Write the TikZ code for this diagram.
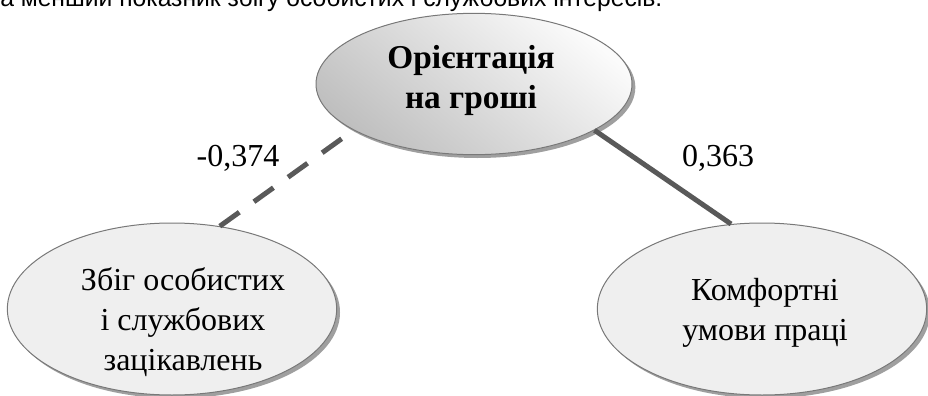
\documentclass[tikz,border=0pt]{standalone}
\usepackage{fontspec}
\setmainfont{Liberation Serif}
\newfontfamily\captfont{Liberation Sans}
\usetikzlibrary{shapes.geometric,shadows}

\definecolor{linkgray}{RGB}{89,89,89}
\definecolor{rimgray}{RGB}{120,120,120}
\definecolor{ovalfill}{RGB}{239,239,239}

\tikzset{
	oval/.style={ellipse, draw=rimgray, line width=0.75pt, fill=ovalfill,
		minimum width=247pt, minimum height=129pt,
		drop shadow={shadow xshift=2.5pt, shadow yshift=-2.5pt, fill=gray!75, opacity=1}},
	mainoval/.style={oval, shade, shading=axis, top color=white!97!gray, bottom color=gray!50,
		shading angle=-40, minimum width=237pt, minimum height=106pt},
	ovaltext/.style={align=center, inner sep=0pt, font=\fontsize{24}{30}\selectfont},
	link/.style={draw=linkgray, line width=3.75pt},
	coef/.style={inner sep=0.75pt, font=\fontsize{24}{28}\selectfont}
}

\begin{document}
\begin{tikzpicture}[x=0.75pt,y=0.75pt,yscale=-1,xscale=1]
	\useasboundingbox (0,0) rectangle (928,396);

	% Text Node
	\node [anchor=base west, inner sep=0pt, font=\captfont\fontsize{18.5}{22}\selectfont] (capt) at (0,7) {а менший показник збігу особистих і службових інтересів.};

	% Ellipses
	\node [mainoval] (money) at (474,84) {};
	\node [oval] (match) at (172,309) {};
	\node [oval] (comfort) at (762,309) {};

	% Text Node
	\node [ovaltext, font=\fontsize{25}{30}\selectfont\bfseries] (moneytext) at (471,80) {Орієнтація\\на гроші};
	% Text Node
	\node [ovaltext] (matchtext) at (183,322) {Збіг особистих\\і службових\\зацікавлень};
	% Text Node
	\node [ovaltext] (comforttext) at (765,313) {Комфортні\\умови праці};

	% Links
	\draw [link, dash pattern={on 18pt off 13.5pt}] (match.60) -- (money.201) ;
	\draw [link] (money.339) -- (comfort.110) ;

	% Text Node
	\node [coef] (neg) at (238,158) {-0,374};
	% Text Node
	\node [coef] (pos) at (718,158) {0,363};

\end{tikzpicture}
\end{document}
